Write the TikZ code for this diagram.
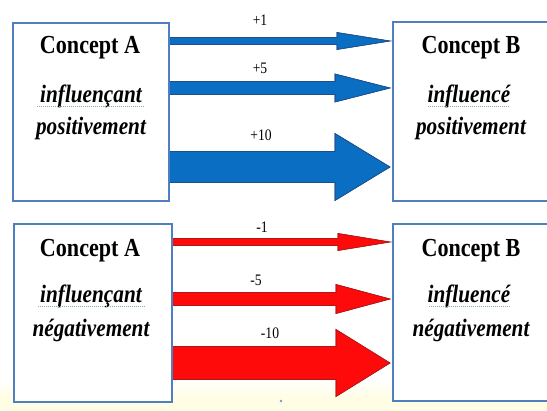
\documentclass[tikz,border=0pt]{standalone}
\usepackage{fontspec}
\setmainfont{Liberation Serif}
\definecolor{boxline}{HTML}{4F7FBF}
\definecolor{posfill}{HTML}{0A6FC2}
\definecolor{posedge}{HTML}{1F4E8A}
\definecolor{negfill}{HTML}{FF0A0A}
\definecolor{negedge}{HTML}{B01818}
\definecolor{paleband}{HTML}{FFFDE3}
\definecolor{spellgreen}{HTML}{8FB08F}
\newcommand{\squeeze}[1]{\scalebox{0.85}[1]{#1}}
\tikzset{
  x=1pt, y=-1pt,
  conceptbox/.style={draw=boxline, line width=2.4pt, fill=white},
  title/.style={font=\fontsize{26}{28}\selectfont\bfseries, inner sep=0pt},
  role/.style={font=\fontsize{25}{28}\selectfont\bfseries\itshape, inner sep=0pt},
  weight/.style={font=\fontsize{16}{18}\selectfont, inner sep=0pt},
  spell/.style={draw=spellgreen, line width=0.8pt, dash pattern=on 1pt off 1pt},
  posarrow/.style={fill=posfill, draw=posedge, line width=0.6pt},
  negarrow/.style={fill=negfill, draw=negedge, line width=0.6pt},
}
% horizontal block arrow: #2 start x, #3 centre y, #4 shaft half width,
% #5 head start x, #6 head half height, #7 tip x
\newcommand{\blockarrow}[7][]{%
  \fill[#1] (#2,#3-#4) -- (#5,#3-#4) -- (#5,#3-#6) -- (#7,#3)
     -- (#5,#3+#6) -- (#5,#3+#4) -- (#2,#3+#4) -- cycle;
  \draw[#1, fill=none] (#2,#3-#4) -- (#5,#3-#4) -- (#5,#3-#6) -- (#7,#3)
     -- (#5,#3+#6) -- (#5,#3+#4) -- (#2,#3+#4);}
\begin{document}
\begin{tikzpicture}
\useasboundingbox (0,0) rectangle (547,411);
% page background with the pale band along the bottom
\fill[white] (0,0) rectangle (547,411);
\shade[top color=white, bottom color=paleband] (0,380) rectangle (547,398);
\fill[paleband] (0,398) rectangle (547,411);

% positive block arrows
\blockarrow[posarrow]{168}{41}{3.5}{337}{8.5}{390}
\blockarrow[posarrow]{168}{88}{6.5}{335}{14}{390}
\blockarrow[posarrow]{168}{167}{15.5}{335}{33.5}{390}
% negative block arrows
\blockarrow[negarrow]{171}{242}{3.5}{338}{8.5}{390}
\blockarrow[negarrow]{171}{299}{6.5}{336}{14.5}{390}
\blockarrow[negarrow]{171}{363}{16.5}{336}{33.5}{390}

% concept boxes
\node[conceptbox, minimum width=156pt, minimum height=178pt, anchor=north west] (ap) at (12,22) {};
\node[conceptbox, minimum width=162pt, minimum height=179pt, anchor=north west] (bp) at (392,21) {};
\node[conceptbox, minimum width=158pt, minimum height=178pt, anchor=north west] (an) at (13,223) {};
\node[conceptbox, minimum width=162pt, minimum height=177pt, anchor=north west] (bn) at (392,223) {};

% box texts
\node[title] (apt) at (90,48) {\squeeze{Concept A}};
\node[role, anchor=base] (apr) at (91,103) {\squeeze{influençant}};
\node[role, anchor=base] (aps) at (91,135) {\squeeze{positivement}};
\draw[spell] (37,106) -- (145,106);

\node[title] (bpt) at (471,48) {\squeeze{Concept B}};
\node[role, anchor=base] (bpr) at (469,103) {\squeeze{influencé}};
\node[role, anchor=base] (bps) at (471,135) {\squeeze{positivement}};
\draw[spell] (428,106) -- (510,106);

\node[title] (ant) at (90,251) {\squeeze{Concept A}};
\node[role, anchor=base] (anr) at (91,303) {\squeeze{influençant}};
\node[role, anchor=base] (ans) at (91,337) {\squeeze{négativement}};
\draw[spell] (38,306) -- (146,306);

\node[title] (bnt) at (471,251) {\squeeze{Concept B}};
\node[role, anchor=base] (bnr) at (469,303) {\squeeze{influencé}};
\node[role, anchor=base] (bns) at (471,337) {\squeeze{négativement}};
\draw[spell] (429,306) -- (511,306);

% weights
\node[weight] (w1) at (260,20) {\squeeze{+1}};
\node[weight] (w5) at (260,68) {\squeeze{+5}};
\node[weight] (w10) at (261,135) {\squeeze{+10}};
\node[weight] (m1) at (262,227) {\squeeze{-1}};
\node[weight] (m5) at (256,280) {\squeeze{-5}};
\node[weight] (m10) at (270,333) {\squeeze{-10}};

% small mark on the lower band
\fill[boxline!80] (281,401) circle (1.3);
\end{tikzpicture}
\end{document}
